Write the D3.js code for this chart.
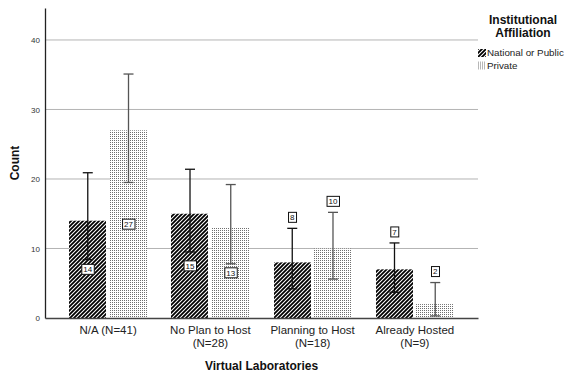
<!DOCTYPE html>
<html>
<head>
<meta charset="utf-8">
<script src="https://cdn.jsdelivr.net/npm/d3@7"></script>
<style>
  body { margin: 0; background: #fff; }
  svg { display: block; font-family: "Liberation Sans", Arial, sans-serif; }
</style>
</head>
<body>
<div id="chart"></div>
<script>
// values
const categories = ["N/A (N=41)", "No Plan to Host\n(N=28)", "Planning to Host\n(N=18)", "Already Hosted\n(N=9)"];
const seriesNames = ["National or Public", "Private"];
const nationalCounts = [14, 15, 8, 7];
const privateCounts = [27, 13, 10, 2];
const nationalLower = [8.4, 9.5, 4.2, 3.7];
const nationalUpper = [20.9, 21.4, 12.9, 10.8];
const privateLower = [19.5, 7.8, 5.6, 0.3];
const privateUpper = [35.1, 19.2, 15.2, 5.1];
const yTicks = [0, 10, 20, 30, 40];

const width = 568, height = 373;
const margin = {top: 8, right: 90, bottom: 55, left: 45};

const rows = [];
categories.forEach((c, i) => {
  rows.push({cat: c, series: seriesNames[0], value: nationalCounts[i], lo: nationalLower[i], hi: nationalUpper[i]});
  rows.push({cat: c, series: seriesNames[1], value: privateCounts[i], lo: privateLower[i], hi: privateUpper[i]});
});

const svg = d3.select("#chart").append("svg")
  .attr("width", width)
  .attr("height", height);

const defs = svg.append("defs");
const stripes = defs.append("pattern")
  .attr("id", "stripes")
  .attr("patternUnits", "userSpaceOnUse")
  .attr("width", 4).attr("height", 4);
stripes.append("rect").attr("width", 4).attr("height", 4).attr("fill", "#fff");
stripes.append("path")
  .attr("d", "M0,4L4,0M-1,1L1,-1M3,5L5,3")
  .attr("stroke", "#000")
  .attr("stroke-width", 1.8);

const dots = defs.append("pattern")
  .attr("id", "dots")
  .attr("patternUnits", "userSpaceOnUse")
  .attr("width", 2).attr("height", 2);
dots.append("rect").attr("width", 2).attr("height", 2).attr("fill", "#fff");
dots.append("rect").attr("width", 1).attr("height", 1).attr("fill", "#6e6e6e");

const fills = {[seriesNames[0]]: "url(#stripes)", [seriesNames[1]]: "url(#dots)"};
const whiskerColor = {[seriesNames[0]]: "#111", [seriesNames[1]]: "#555"};

const x0 = d3.scaleBand()
  .domain(categories)
  .range([margin.left, width - margin.right])
  .paddingInner(0.235)
  .paddingOuter(0.235);

const x1 = d3.scaleBand()
  .domain(seriesNames)
  .range([0, x0.bandwidth()])
  .paddingInner(0.08);

const y = d3.scaleLinear()
  .domain([0, 44.6])
  .range([height - margin.bottom, margin.top]);

// gridlines
svg.append("g")
  .selectAll("line")
  .data(yTicks.filter(d => d > 0))
  .join("line")
    .attr("x1", margin.left)
    .attr("x2", width - margin.right)
    .attr("y1", d => y(d))
    .attr("y2", d => y(d))
    .attr("stroke", "#b4b4b4")
    .attr("stroke-width", 1);

// bars
svg.append("g")
  .selectAll("rect")
  .data(rows)
  .join("rect")
    .attr("x", d => Math.round(x0(d.cat) + x1(d.series)))
    .attr("y", d => y(d.value))
    .attr("width", Math.round(x1.bandwidth()))
    .attr("height", d => y(0) - y(d.value))
    .attr("fill", d => fills[d.series]);

// error bars
const eb = svg.append("g")
  .selectAll("g")
  .data(rows)
  .join("g")
    .attr("stroke", d => whiskerColor[d.series])
    .attr("stroke-width", 1.3);
const cx = d => x0(d.cat) + x1(d.series) + x1.bandwidth() / 2;
eb.append("line")
  .attr("x1", cx).attr("x2", cx)
  .attr("y1", d => y(d.lo)).attr("y2", d => y(d.hi));
eb.append("line")
  .attr("x1", d => cx(d) - 5).attr("x2", d => cx(d) + 5)
  .attr("y1", d => y(d.hi)).attr("y2", d => y(d.hi));
eb.append("line")
  .attr("x1", d => cx(d) - 5).attr("x2", d => cx(d) + 5)
  .attr("y1", d => y(d.lo)).attr("y2", d => y(d.lo));

// value labels: inside the bar if tall, otherwise above the whisker
const labelY = d => d.value >= 12 ? y(d.value / 2) : y(d.hi) - 11;
const lab = svg.append("g")
  .selectAll("g")
  .data(rows)
  .join("g")
    .attr("transform", d => `translate(${cx(d)},${labelY(d)})`);
lab.append("text")
  .attr("text-anchor", "middle")
  .attr("dy", "0.35em")
  .attr("font-size", 8)
  .attr("fill", "#111")
  .text(d => d.value)
  .each(function() {
    const b = this.getBBox();
    d3.select(this.parentNode).insert("rect", "text")
      .attr("x", b.x - 1.5)
      .attr("y", -5)
      .attr("width", b.width + 3)
      .attr("height", 10)
      .attr("fill", "#fff")
      .attr("stroke", "#111")
      .attr("stroke-width", 1);
  });

// y axis
const yAxis = svg.append("g")
  .attr("transform", `translate(${margin.left},0)`)
  .call(d3.axisLeft(y).tickValues(yTicks).tickSize(0).tickPadding(5));
yAxis.select(".domain").attr("stroke", "#222").attr("stroke-width", 1.3);
yAxis.selectAll("text")
  .attr("font-size", 8)
  .attr("font-family", "Liberation Sans, Arial, sans-serif")
  .attr("fill", "#333");

// x axis
const xAxis = svg.append("g")
  .attr("transform", `translate(0,${y(0)})`)
  .call(d3.axisBottom(x0).tickSize(0).tickPadding(0).tickSizeOuter(0));
xAxis.select(".domain").attr("stroke", "#444").attr("stroke-width", 1.5);
xAxis.selectAll(".tick text").each(function(d) {
  const t = d3.select(this).text("")
    .attr("font-size", 11.5)
    .attr("font-family", "Liberation Sans, Arial, sans-serif")
    .attr("fill", "#222")
    .attr("dy", null)
    .attr("y", 0);
  d.split("\n").forEach((line, i) => {
    t.append("tspan").attr("x", 0).attr("y", 16 + i * 12.5).text(line);
  });
});

// axis titles
svg.append("text")
  .attr("x", (margin.left + width - margin.right) / 2)
  .attr("y", 370)
  .attr("text-anchor", "middle")
  .attr("font-size", 12)
  .attr("font-weight", "bold")
  .attr("fill", "#111")
  .text("Virtual Laboratories");

svg.append("text")
  .attr("transform", `translate(19,${(margin.top + y(0)) / 2}) rotate(-90)`)
  .attr("text-anchor", "middle")
  .attr("font-size", 12)
  .attr("font-weight", "bold")
  .attr("fill", "#111")
  .text("Count");

// legend
const legend = svg.append("g");
legend.selectAll("text.title")
  .data(["Institutional", "Affiliation"])
  .join("text")
    .attr("class", "title")
    .attr("x", 523)
    .attr("y", (d, i) => 24 + i * 12.5)
    .attr("text-anchor", "middle")
    .attr("font-size", 12)
    .attr("font-weight", "bold")
    .attr("fill", "#111")
    .text(d => d);
const item = legend.selectAll("g.item")
  .data(seriesNames)
  .join("g")
    .attr("class", "item")
    .attr("transform", (d, i) => `translate(478,${49 + i * 12.5})`);
item.append("rect")
  .attr("width", 8).attr("height", 8)
  .attr("fill", d => fills[d]);
item.append("text")
  .attr("x", 9)
  .attr("y", 4)
  .attr("dy", "0.35em")
  .attr("font-size", 9.8)
  .attr("fill", "#222")
  .text(d => d);
</script>
</body>
</html>
